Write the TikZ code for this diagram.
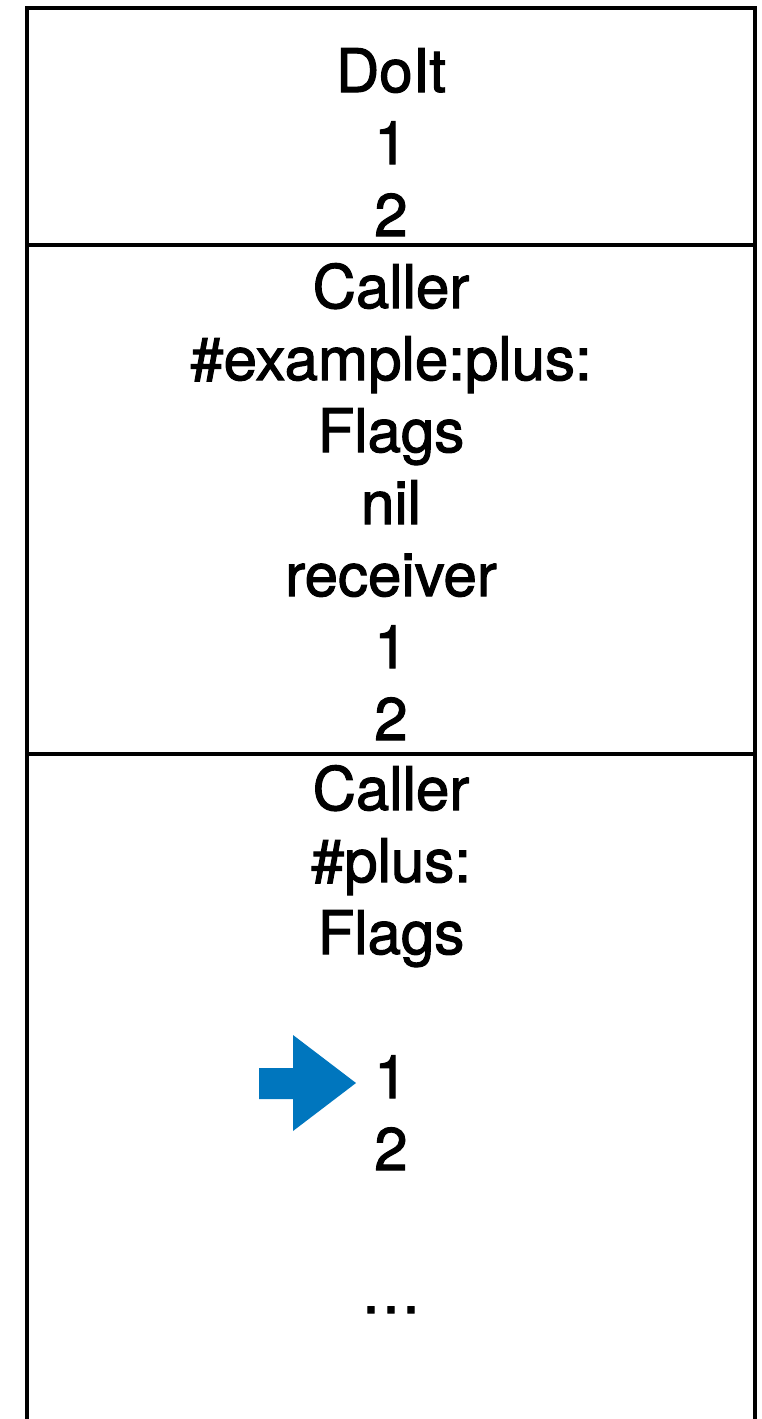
\documentclass[tikz,border=0pt]{standalone}
\usepackage{fontspec}
\setmainfont{TeX Gyre Heros}
\newfontfamily\labelfont{TeX Gyre Heros}[FakeBold=1.8]
\definecolor{arrowblue}{RGB}{0,118,190}
\begin{document}
\begin{tikzpicture}[x=1pt,y=-1pt,
  lbl/.style={anchor=base,inner sep=0pt,font=\labelfont\fontsize{60}{72}\selectfont},
  frame/.style={line width=4pt,line join=miter}]
\useasboundingbox (0,0) rectangle (762,1419);

% stack outline, open at the bottom
\draw[frame] (27,1430) -- (27,8) -- (755,8) -- (755,1430);
% frame separators
\draw[frame] (27,244.5) -- (755,244.5);
\draw[frame] (27,753.5) -- (755,753.5);

% DoIt frame
\node[lbl] (doit)  at (391,92)  {DoIt};
\node[lbl] (d1)    at (391,164) {1};
\node[lbl] (d2)    at (391,236) {2};

% #example:plus: frame
\node[lbl] (c1)    at (391,308) {Caller};
\node[lbl] (sel1)  at (391,380) {\#example:plus:};
\node[lbl] (f1)    at (391,452) {Flags};
\node[lbl] (nil)   at (391,524) {nil};
\node[lbl] (rcv)   at (391,596) {receiver};
\node[lbl] (e1)    at (391,668) {1};
\node[lbl] (e2)    at (391,740) {2};

% #plus: frame
\node[lbl] (c2)    at (391,810) {Caller};
\node[lbl] (sel2)  at (391,882) {\#plus:};
\node[lbl] (f2)    at (391,954) {Flags};
\node[lbl] (p1)    at (391,1098) {1};
\node[lbl] (p2)    at (391,1170) {2};
\node[lbl] (more)  at (391,1313) {…};

% stack pointer
\fill[arrowblue] (259,1068) -- (293,1068) -- (293,1035) -- (356,1083)
  -- (293,1131) -- (293,1099) -- (259,1099) -- cycle;
\end{tikzpicture}
\end{document}
